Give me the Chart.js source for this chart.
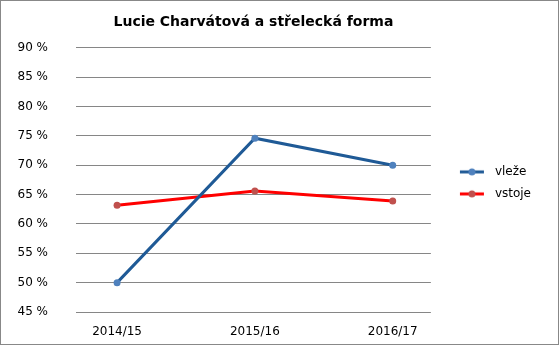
<!DOCTYPE html>
<html>
<head>
<meta charset="utf-8">
<script src="https://cdn.jsdelivr.net/npm/chart.js@4"></script>
<style>
  html, body { margin: 0; padding: 0; background: #fff; }
  #wrap { width: 557px; height: 343px; border: 1px solid #888; }
</style>
</head>
<body>
<div id="wrap"><canvas id="chart" width="557" height="343"></canvas></div>
<script>
const seasons = ['2014/15', '2015/16', '2016/17'];
const vleze = [50.0, 74.6, 70.0];
const vstoje = [63.2, 65.6, 63.9];
const yTicks = [45, 50, 55, 60, 65, 70, 75, 80, 85, 90];

// legend symbol: short line with a dot in the middle
function legendIcon(lineColor, dotColor) {
    const c = document.createElement('canvas');
    c.width = 48; c.height = 10;
    const g = c.getContext('2d');
    g.strokeStyle = lineColor;
    g.lineWidth = 3;
    g.beginPath();
    g.moveTo(19, 5);
    g.lineTo(43, 5);
    g.stroke();
    g.fillStyle = dotColor;
    g.beginPath();
    g.arc(31, 5, 3.5, 0, Math.PI * 2);
    g.fill();
    return c;
}

const toPoints = arr => arr.map((v, i) => ({ x: i, y: v }));
const font = 'Tahoma, "DejaVu Sans", sans-serif';

new Chart(document.getElementById('chart'), {
    type: 'line',
    data: {
        datasets: [{
            label: 'vleže',
            data: toPoints(vleze),
            borderColor: '#1f5a96',
            backgroundColor: '#4f81bd',
            pointBackgroundColor: '#4f81bd',
            pointBorderWidth: 0,
            borderWidth: 3,
            pointRadius: 3.5,
            tension: 0,
            legendIcon: legendIcon('#1f5a96', '#4f81bd')
        }, {
            label: 'vstoje',
            data: toPoints(vstoje),
            borderColor: '#ff0000',
            backgroundColor: '#c0504d',
            pointBackgroundColor: '#c0504d',
            pointBorderWidth: 0,
            borderWidth: 3,
            pointRadius: 3.5,
            tension: 0,
            legendIcon: legendIcon('#ff0000', '#c0504d')
        }]
    },
    options: {
        responsive: false,
        animation: false,
        layout: { padding: { left: 0, right: 17, top: 0, bottom: 0 } },
        plugins: {
            title: {
                display: true,
                text: 'Lucie Charvátová a střelecká forma',
                color: '#000',
                fullSize: false,
                font: { family: font, size: 14, weight: 'bold' },
                padding: { top: 13, bottom: 17 }
            },
            legend: {
                position: 'right',
                fullSize: false,
                // empty title just nudges the entries down a little
                title: { display: true, text: '', font: { size: 1, lineHeight: 1 }, padding: { top: 5, bottom: 0 } },
                labels: {
                    usePointStyle: true,
                    pointStyleWidth: 48,
                    color: '#000',
                    font: { family: font, size: 12 },
                    padding: 10,
                    generateLabels(chart) {
                        const items = Chart.defaults.plugins.legend.labels.generateLabels(chart);
                        items.forEach(it => {
                            it.pointStyle = chart.data.datasets[it.datasetIndex].legendIcon;
                        });
                        return items;
                    }
                }
            },
            tooltip: { enabled: false }
        },
        scales: {
            x: {
                type: 'linear',
                min: -0.298,
                max: 2.277,
                grid: { display: false },
                border: { display: false },
                afterBuildTicks(scale) {
                    scale.ticks = seasons.map((s, i) => ({ value: i }));
                },
                afterFit(scale) { scale.height = 32; },
                ticks: {
                    color: '#000',
                    padding: 5,
                    maxRotation: 0,
                    font: { family: font, size: 12 },
                    callback: v => seasons[v]
                }
            },
            y: {
                min: yTicks[0],
                max: yTicks[yTicks.length - 1],
                afterBuildTicks(scale) {
                    scale.ticks = yTicks.map(v => ({ value: v }));
                },
                afterFit(scale) {
                    scale.width = 75;
                    scale.paddingTop = 7;
                    scale.paddingBottom = 7;
                },
                grid: { color: '#868686', lineWidth: 1, drawTicks: false },
                border: { display: false },
                ticks: {
                    color: '#000',
                    padding: 28,
                    font: { family: font, size: 12 },
                    callback: v => v + ' %'
                }
            }
        }
    }
});
</script>
</body>
</html>
